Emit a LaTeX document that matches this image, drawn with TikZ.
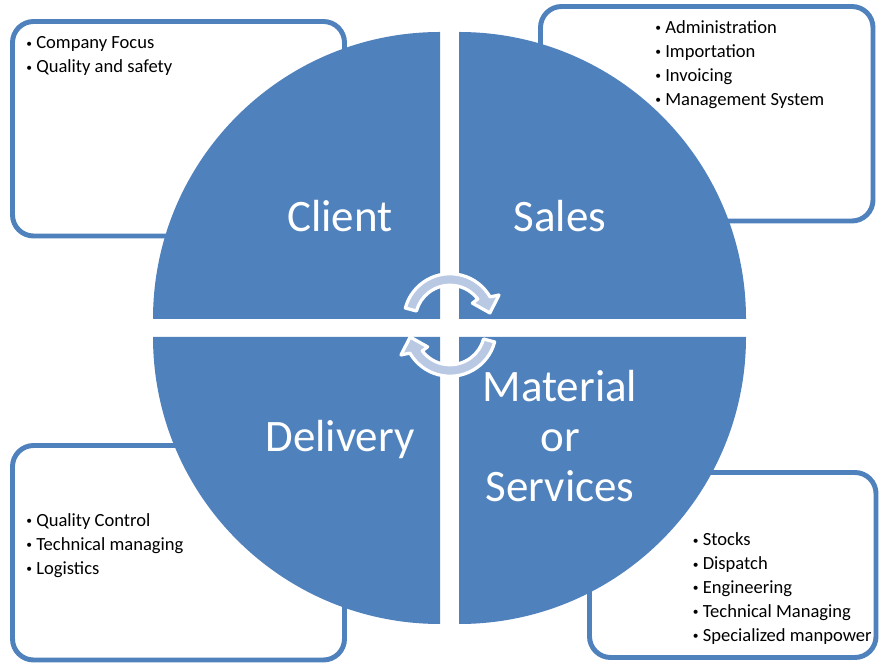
\documentclass[tikz,border=0pt]{standalone}
\usepackage{fontspec}
\usepackage{graphicx}
\setmainfont{Carlito}
\usetikzlibrary{positioning}

\definecolor{SmartBlau}{HTML}{4F81BD}
\definecolor{PfeilHell}{RGB}{185,200,227}

\begin{document}
\begin{tikzpicture}
	[
	x=0.025cm, y=0.025cm,
	Quadrant/.style={fill=SmartBlau},											%Viertelkreise
	InfoBox/.style={draw=SmartBlau, line width=3.5pt, fill=white, rounded corners=15pt},	%Kaesten
	ListText/.style={anchor=base west, inner sep=0pt, font=\fontsize{13.2}{17}\selectfont},	%Aufzaehlungen
	BigLabel/.style={anchor=base, inner sep=0pt, text=white, font=\fontsize{32}{35.5}\selectfont},	%Beschriftung
	CycleArrow/.style={draw=white, line width=2.3pt, fill=PfeilHell, line join=round}		%Kreispfeile
	]

	%% Definitionen %%
	\def\Radius{287}		%Radius der Viertelkreise
	\def\Ra{46.25}			%Aussenradius Pfeil
	\def\Ri{34.75}			%Innenradius Pfeil
	\newcommand{\li}[1]{\makebox[0.62em][l]{\hspace{0.08em}\raisebox{0.1em}{\scalebox{0.62}{\textbullet}}}#1}

	\fill[white] (0,0) rectangle (880,664);
	\useasboundingbox (0,0) rectangle (880,664);

	% Kaesten hinter dem Kreis
	\draw[InfoBox] (12.5,428) rectangle (344.5,642.5);	%Client
	\draw[InfoBox] (540.5,443) rectangle (873,657.5);	%Sales
	\draw[InfoBox] (12.5,4) rectangle (344.5,218.5);	%Delivery
	\draw[InfoBox] (589.5,6.5) rectangle (876,191.5);	%Material

	% Ecken der Viertelkreise
	\coordinate (qTL) at (440,345);
	\coordinate (qTR) at (459,345);
	\coordinate (qBL) at (440,327);
	\coordinate (qBR) at (459,327);

	%%%%%%%%%%%%%%%%%%%%%%%%%% Viertelkreise %%%%%%%%%%%%%%%%%%%%%%%%%%%%%%%
	\fill[Quadrant] (qTL) -- ++(-\Radius,0) arc[start angle=180, end angle=90, radius=\Radius] -- cycle;
	\fill[Quadrant] (qTR) -- ++(0,\Radius) arc[start angle=90, end angle=0, radius=\Radius] -- cycle;
	\fill[Quadrant] (qBL) -- ++(0,-\Radius) arc[start angle=270, end angle=180, radius=\Radius] -- cycle;
	\fill[Quadrant] (qBR) -- ++(\Radius,0) arc[start angle=0, end angle=-90, radius=\Radius] -- cycle;

	% Kreispfeile in der Mitte
	\foreach \Mitte/\Dreh in {344/0, 334/180}{
		\coordinate (pz) at (450,\Mitte);
		\draw[CycleArrow] ([shift={(\Dreh+165:\Ra)}]pz) arc[start angle=\Dreh+165, end angle=\Dreh+30, radius=\Ra]
			-- ([shift={(\Dreh+27:55)}]pz) -- ([shift={(\Dreh+10:40.5)}]pz) -- ([shift={(\Dreh+37:28)}]pz)
			-- ([shift={(\Dreh+37:\Ri)}]pz) arc[start angle=\Dreh+37, end angle=\Dreh+165, radius=\Ri] -- cycle;
	}

	% Beschriftung der Viertelkreise
	\node[BigLabel] (client)   at (340,432) {Client};
	\node[BigLabel] (sales)    at (560,432) {Sales};
	\node[BigLabel] (delivery) at (340,212) {Delivery};
	\node[BigLabel] (material) at (560,262) {\begin{tabular}[t]{@{}c@{}}Material\\or\\Services\end{tabular}};

	% Aufzaehlungen in den Kaesten
	\node[ListText] (listClient) at (24.5,615) {\begin{tabular}[t]{@{}l@{}}\li{Company Focus}\\\li{Quality and safety}\end{tabular}};
	\node[ListText] (listSales) at (653.5,630.5) {\begin{tabular}[t]{@{}l@{}}\li{Administration}\\\li{Importation}\\\li{Invoicing}\\\li{Management System}\end{tabular}};
	\node[ListText] (listDelivery) at (24.5,137.3) {\begin{tabular}[t]{@{}l@{}}\li{Quality Control}\\\li{Technical managing}\\\li{Logistics}\end{tabular}};
	\node[ListText] (listMaterial) at (691,118) {\begin{tabular}[t]{@{}l@{}}\li{Stocks}\\\li{Dispatch}\\\li{Engineering}\\\li{Technical Managing}\\\li{Specialized manpower}\end{tabular}};
\end{tikzpicture}
\end{document}
